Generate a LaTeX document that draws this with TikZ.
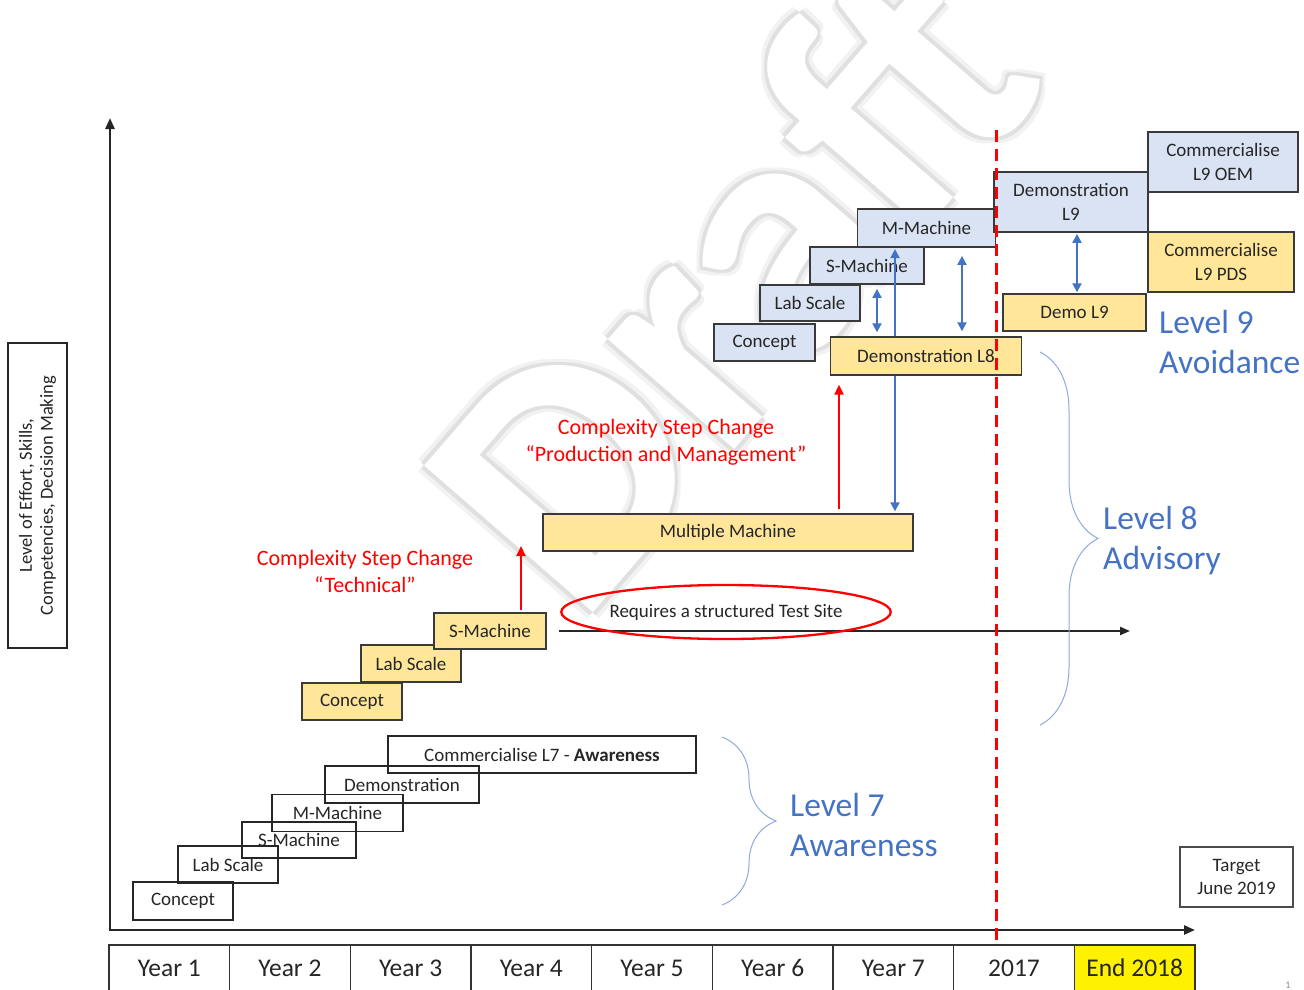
\documentclass[tikz,border=0pt]{standalone}
\usepackage{fontspec}
\setmainfont{Carlito}
\usetikzlibrary{arrows.meta,shapes.geometric,decorations.pathreplacing,calc}

\definecolor{stageyellow}{HTML}{FFE699}
\definecolor{stageblue}{HTML}{DAE3F3}
\definecolor{levelblue}{HTML}{4472C4}
\definecolor{bracecolour}{HTML}{8FAADC}
\definecolor{edgegrey}{HTML}{3A3A3A}

\tikzset{
  stage/.style={draw=black!85, line width=1.4pt, inner sep=0pt, text=black!85,
    font=\fontsize{19}{24}\selectfont},
  l7stage/.style={stage},
  l8stage/.style={stage, fill=stageyellow, draw=edgegrey},
  l9stage/.style={stage, fill=stageblue, draw=edgegrey, line width=1.8pt},
  boxsize/.style 2 args={minimum width=#1, minimum height=#2},
  yearbox/.style={draw=black!80, line width=1.2pt, minimum width=120.67,
    minimum height=46, inner sep=0pt, text=black!85, font=\fontsize{25.5}{27}\selectfont},
  levellabel/.style={text=levelblue, align=left, anchor=west, inner sep=0pt,
    font=\fontsize{33.5}{40}\selectfont},
  steplabel/.style={text=red, align=center, inner sep=0pt,
    font=\fontsize{22}{27}\selectfont},
  bluearrow/.style={draw=levelblue, line width=2pt},
  redarrow/.style={draw=red, line width=2.2pt, -{Triangle[length=10pt,width=9pt]}},
  levelbrace/.style={draw=bracecolour, line width=1pt, decorate,
    decoration={brace, amplitude=#1}},
  wmark/.style={rotate=49, anchor=base west, inner sep=0pt,
    font=\bfseries\fontsize{345}{345}\selectfont},
}

\begin{document}
\begin{tikzpicture}[x=1pt, y=-1pt, >={Triangle[length=9pt,width=9pt]}]
\useasboundingbox (0,0) rectangle (1304,990);

% watermark
\coordinate (wmc) at (580,628);
\foreach \dx/\dy [count=\i] in {6/6,-6/6,6/-6,-6/-6}
  \node[wmark, text=black!5] (wmo\i) at ($(wmc)+(\dx,\dy)$) {Draft};
\foreach \dx/\dy [count=\i] in {3/3,-3/3,3/-3,-3/-3}
  \node[wmark, text=black!12] (wm\i) at ($(wmc)+(\dx,\dy)$) {Draft};
\node[wmark, text=white] (wm) at (wmc) {Draft};

% axes
\coordinate (origin) at (110,930);
\coordinate (ytop) at (110,118);
\coordinate (xend) at (1195,930);
\draw[line width=2.5pt, black!85, {Triangle[length=11pt,width=9pt]}-{Triangle[length=11pt,width=9pt]}]
  (ytop) -- (origin) -- (xend);

% years
\foreach \lab [count=\i] in {Year 1,Year 2,Year 3,Year 4,Year 5,Year 6,Year 7,2017}
  \node[yearbox] (yr\i) at ({109+120.67*(\i-0.5)},968) {\lab};
\node[yearbox, fill=yellow] (yr9) at ({109+120.67*8.5},968) {End 2018};

\node[draw=black!85, line width=1.3pt, rotate=90, minimum width=305, minimum height=59,
  align=center, inner sep=0pt, text=black!85, font=\fontsize{18.5}{21}\selectfont]
  (ylab) at (37.5,495.5) {Level of Effort, Skills,\\Competencies, Decision Making};

% level 7
\node[l7stage, boxsize={100}{38}] (c7) at (183,901) {Concept};
\node[l7stage, boxsize={100}{37}] (l7) at (228,864.5) {Lab Scale};
\node[l7stage, boxsize={114}{36}] (s7) at (299,840) {S-Machine};
\node[l7stage, boxsize={131}{37}] (m7) at (337.5,813) {M-Machine};
\node[l7stage, boxsize={154}{37}] (d7) at (402,784.5) {Demonstration};
\node[l7stage, boxsize={308}{37}] (cm7) at (542,754.5) {Commercialise L7 - \textbf{Awareness}};

% level 8
\node[l8stage, boxsize={100}{37}] (c8) at (352,701.5) {Concept};
\node[l8stage, boxsize={100}{37}] (l8) at (411,663.5) {Lab Scale};
\node[l8stage, boxsize={112}{36}] (s8) at (490,631) {S-Machine};
\node[l8stage, boxsize={370}{37}] (mm) at (728,532.5) {Multiple Machine};
\node[l8stage, boxsize={191}{38}] (dL8) at (926,356) {Demonstration L8};

% level 9
\node[l9stage, boxsize={101}{37}] (c9) at (764.5,342.5) {Concept};
\node[l9stage, boxsize={100}{36}] (l9) at (810,303) {Lab Scale};
\node[l9stage, boxsize={114}{37}] (s9) at (867,265.5) {S-Machine};
\node[l9stage, boxsize={138}{38}] (m9) at (926.5,228) {M-Machine};
\node[l9stage, boxsize={154}{60}, align=center] (dm9) at (1071,202) {Demonstration\\L9};
\node[l9stage, boxsize={150}{60}, align=center] (oem) at (1223,162) {Commercialise\\L9 OEM};
\node[l8stage, boxsize={146}{60}, align=center] (pds) at (1221,262) {Commercialise\\L9 PDS};
\node[l8stage, boxsize={143}{37}] (dL9) at (1074.5,312.5) {Demo L9};

% blue links
\coordinate (ax1) at (877,0);
\coordinate (ax2) at (895,0);
\coordinate (ax3) at (962,0);
\coordinate (ax4) at (1077,0);
\draw[bluearrow, <->, shorten <=4pt, shorten >=4pt] (ax1 |- s9.south) -- (ax1 |- dL8.north);
\draw[bluearrow, ->, shorten >=3pt] (ax2 |- dL8.north) -- (ax2 |- s9.north);
\draw[bluearrow, ->, shorten >=2pt] (ax2 |- dL8.south) -- (ax2 |- mm.north);
\draw[bluearrow, <->, shorten <=8pt, shorten >=5pt] (ax3 |- m9.south) -- (ax3 |- dL8.north);
\draw[bluearrow, <->, shorten <=1pt, shorten >=1pt] (ax4 |- dm9.south) -- (ax4 |- dL9.north);

% step changes
\coordinate (r1x) at (521,0);
\coordinate (r1top) at (521,546);
\coordinate (r2x) at (839,0);
\draw[redarrow, shorten <=2pt] (r1x |- s8.north) -- (r1top);
\draw[redarrow, shorten <=4pt, shorten >=9pt] (r2x |- mm.north) -- (r2x |- dL8.south);
\node[steplabel] (step1) at (365,571) {Complexity Step Change\\“Technical”};
\node[steplabel] (step2) at (666,442) {Complexity Step Change\\“Production and Management”};

% test site
\coordinate (siteEnd) at (1130,631);
\draw[line width=2pt, black!85, -{Triangle[length=10pt,width=8pt]}] ([xshift=12pt]s8.east) -- (siteEnd);
\node[ellipse, draw=red, line width=2.3pt, minimum width=282, minimum height=54, inner sep=0pt,
  text=black!85, font=\fontsize{19}{20}\selectfont] (site) at (726,612) {Requires a structured Test Site};

% braces and levels
\coordinate (b8a) at (1040,352);
\coordinate (b8b) at (1040,725);
\coordinate (b7a) at (722,737);
\coordinate (b7b) at (722,905);
\draw[levelbrace=58] (b8a) -- (b8b);
\draw[levelbrace=54] (b7a) -- (b7b);
\node[levellabel] (lv9) at (1159,341.5) {Level 9\\Avoidance};
\node[levellabel] (lv8) at (1103,540.5) {Level 8\\Advisory};
\node[levellabel] (lv7) at (790,824.5) {Level 7\\Awareness};

\node[draw=black!70, line width=1.5pt, minimum width=113, minimum height=60, align=center,
  inner sep=0pt, text=black!85, font=\fontsize{19}{23}\selectfont] (target) at (1236.5,877) {Target\\June 2019};
\node[text=black!45, inner sep=0pt, font=\fontsize{10}{12}\selectfont] (pgnum) at (1288,985) {1};

% 2017 line
\coordinate (dashtop) at (996,130);
\draw[red, line width=3pt, dash pattern=on 12pt off 7pt] (dashtop) -- (dashtop |- yr8.north);
\end{tikzpicture}
\end{document}
